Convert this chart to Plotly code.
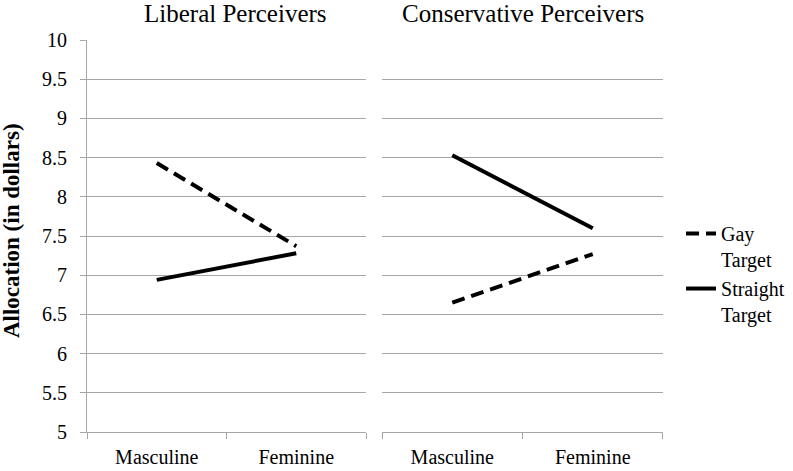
'''
    Allocation by target gender expression, split by perceiver ideology.
'''
import plotly.graph_objects as go

categories = ['Masculine', 'Feminine']

# Liberal perceivers
liberal_gay = [8.43, 7.37]
liberal_straight = [6.94, 7.28]

# Conservative perceivers
conservative_gay = [6.65, 7.27]
conservative_straight = [8.53, 7.60]

y_ticks = [5, 5.5, 6, 6.5, 7, 7.5, 8, 8.5, 9, 9.5, 10]
y_tick_labels = ['5', '5.5', '6', '6.5', '7', '7.5', '8', '8.5', '9', '9.5', '10']

FONT = 'Liberation Serif'
GRID = '#a6a6a6'
DASH = '13px,7px'

fig = go.Figure()

# Panneau de gauche
fig.add_trace(go.Scatter(x=categories, y=liberal_gay, mode='lines', name='Gay<br>Target',
                         line=dict(color='black', width=4, dash=DASH),
                         xaxis='x', yaxis='y'))
fig.add_trace(go.Scatter(x=categories, y=liberal_straight, mode='lines', name='Straight<br>Target',
                         line=dict(color='black', width=4),
                         xaxis='x', yaxis='y'))

# Panneau de droite (pas de doublon dans la légende)
fig.add_trace(go.Scatter(x=categories, y=conservative_gay, mode='lines', name='Gay<br>Target',
                         line=dict(color='black', width=4, dash=DASH),
                         xaxis='x2', yaxis='y2', showlegend=False))
fig.add_trace(go.Scatter(x=categories, y=conservative_straight, mode='lines', name='Straight<br>Target',
                         line=dict(color='black', width=4),
                         xaxis='x2', yaxis='y2', showlegend=False))

x_common = dict(
    type='category', range=[-0.5, 1.5], tickson='boundaries',
    ticks='outside', ticklen=6, tickcolor=GRID, showgrid=False,
    showline=True, linecolor=GRID, linewidth=1, ticklabelstandoff=7,
    tickfont=dict(family=FONT, size=20, color='black'), fixedrange=True,
    automargin=False,
)
y_common = dict(
    range=[5, 10], tickvals=y_ticks, ticktext=y_tick_labels,
    showgrid=True, gridcolor=GRID, gridwidth=1, zeroline=False, fixedrange=True,
    automargin=False,
)

fig.update_layout(
    width=793, height=471,
    margin=dict(l=87, r=130, t=40, b=39),
    paper_bgcolor='white', plot_bgcolor='white',
    font=dict(family=FONT, color='black'),
    xaxis=dict(domain=[0, 0.4844], **x_common),
    xaxis2=dict(domain=[0.5122, 1], **x_common),
    yaxis=dict(anchor='x', ticks='outside', ticklen=6, tickcolor=GRID,
               showline=True, linecolor=GRID, linewidth=1, ticklabelstandoff=9,
               tickfont=dict(family=FONT, size=20, color='black'), **y_common),
    yaxis2=dict(anchor='x2', showticklabels=False, showline=False, **y_common),
    showlegend=True,
    legend=dict(xref='container', yref='container', x=0.8588, y=0.5456,
                xanchor='left', yanchor='top', valign='top',
                font=dict(family=FONT, size=20, color='black'),
                bgcolor='rgba(0,0,0,0)'),
    dragmode=False,
)

# Titres des panneaux et titre de l'axe y
fig.add_annotation(text='Liberal Perceivers', xref='x domain', yref='paper',
                   x=0.5, y=1.0, xshift=9, yshift=27, xanchor='center', yanchor='middle',
                   showarrow=False, font=dict(family=FONT, size=25, color='black'))
fig.add_annotation(text='Conservative Perceivers', xref='x2 domain', yref='paper',
                   x=0.5, y=1.0, yshift=27, xanchor='center', yanchor='middle',
                   showarrow=False, font=dict(family=FONT, size=25, color='black'))
fig.add_annotation(text='<b>Allocation (in dollars)</b>', xref='paper', yref='paper',
                   x=-0.132, y=0.515, xanchor='center', yanchor='middle', textangle=-90,
                   showarrow=False, font=dict(family=FONT, size=23, color='black'))

# la page met une marge de 8px autour du graphique : on la retire
fig.write_html('out.html', config={'displayModeBar': False},
               post_script="document.body.style.margin='0';")
